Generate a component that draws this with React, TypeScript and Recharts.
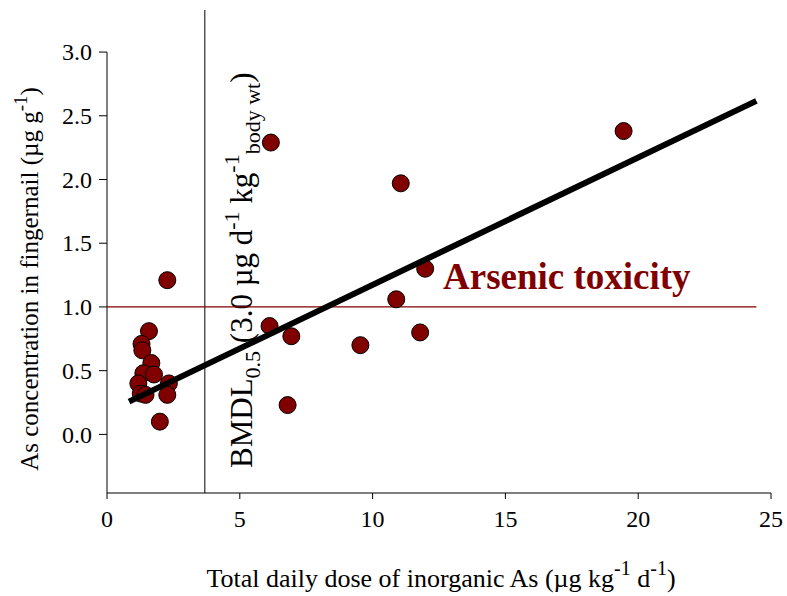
import { Label, ReferenceLine, Scatter, ScatterChart, XAxis, YAxis } from 'recharts'

const FONTE = '"Liberation Serif", "Times New Roman", serif'
const MARROM = '#800000'

// dose diária (µg kg-1 d-1) e concentração na unha (µg g-1)
const doses = [
  2.27, 6.17, 11.06, 19.45, 11.98, 10.89, 11.79, 9.54, 6.12, 6.94, 6.8,
  1.58, 1.3, 1.33, 1.67, 1.37, 1.77, 1.18, 2.33, 1.27, 1.45, 2.27, 1.99
]
const concentracoes = [
  1.21, 2.29, 1.97, 2.38, 1.3, 1.06, 0.8, 0.7, 0.85, 0.77, 0.23,
  0.81, 0.71, 0.66, 0.56, 0.48, 0.47, 0.4, 0.4, 0.32, 0.31, 0.31, 0.1
]
const tendenciaX = [0.83, 24.45]
const tendenciaY = [0.257, 2.617]
const limiteToxicidade = 1.0
const bmdl = 3.68
const ticksX = [0, 5, 10, 15, 20, 25]
const ticksY = [0, 0.5, 1, 1.5, 2, 2.5, 3]

const pontos = doses.map((x, i) => ({ x, y: concentracoes[i] }))
const tendencia = tendenciaX.map((x, i) => ({ x, y: tendenciaY[i] }))

const estiloTick = { fontFamily: FONTE, fontSize: 24 }

const TickX = (p: any) => (
  <text x={p.x} y={p.y} dy="0.75em" textAnchor="middle" style={estiloTick} fill="#000">
    {String(p.payload.value)}
  </text>
)

const TickY = (p: any) => (
  <text x={p.x} y={p.y} dy="0.34em" textAnchor="end" style={estiloTick} fill="#000">
    {Number(p.payload.value).toFixed(1)}
  </text>
)

export default function App() {
  return (
    <div style={{ position: 'absolute', left: 0, top: 0, fontFamily: FONTE }}>
      <ScatterChart
        width={787}
        height={596}
        margin={{ top: 10, right: 16, bottom: 53, left: 47 }}
        style={{ fontFamily: FONTE }}
      >
        <XAxis
          type="number"
          dataKey="x"
          domain={[0, 25]}
          ticks={ticksX}
          height={50}
          tickSize={6}
          tickMargin={10}
          axisLine={{ stroke: '#000' }}
          tickLine={{ stroke: '#000' }}
          tick={TickX}
        >
          <Label
            content={() => (
              <text x={441} y={587} textAnchor="middle" fontSize={26} fontFamily={FONTE} fill="#000">
                Total daily dose of inorganic As (µg kg
                <tspan dy={-12} fontSize={20}>-1</tspan>
                <tspan dy={12}> d</tspan>
                <tspan dy={-12} fontSize={20}>-1</tspan>
                <tspan dy={12}>)</tspan>
              </text>
            )}
          />
        </XAxis>
        <YAxis
          type="number"
          dataKey="y"
          domain={[-0.46, 3.33]}
          ticks={ticksY}
          allowDataOverflow
          width={60}
          tickSize={8}
          tickMargin={7}
          axisLine={false}
          tickLine={{ stroke: '#000' }}
          tick={TickY}
        >
          <Label
            content={() => (
              <text
                transform="translate(38 279) rotate(-90)"
                textAnchor="middle"
                fontSize={25}
                fontFamily={FONTE}
                fill="#000"
              >
                As concentration in fingernail (µg g
                <tspan dy={-11} fontSize={19}>-1</tspan>
                <tspan dy={11}>)</tspan>
              </text>
            )}
          />
        </YAxis>
        <ReferenceLine
          segment={[{ x: 0, y: -0.46 }, { x: 0, y: 3 }]}
          stroke="#000"
          strokeWidth={1}
        />
        <ReferenceLine x={bmdl} stroke="#555" strokeWidth={1.5}>
          <Label
            content={() => (
              <text
                transform="translate(252 468) rotate(-90)"
                textAnchor="start"
                fontSize={31}
                fontFamily={FONTE}
                fill="#000"
              >
                BMDL
                <tspan dy={8} fontSize={22}>0.5</tspan>
                <tspan dy={-8}> (3.0 µg d</tspan>
                <tspan dy={-13} fontSize={22}>-1</tspan>
                <tspan dy={13}> kg</tspan>
                <tspan dy={-13} fontSize={22}>-1</tspan>
                <tspan dy={21} fontSize={22}>body wt</tspan>
                <tspan dy={-8}>)</tspan>
              </text>
            )}
          />
        </ReferenceLine>
        <ReferenceLine
          segment={[{ x: 0, y: limiteToxicidade }, { x: tendenciaX[1], y: limiteToxicidade }]}
          stroke={MARROM}
          strokeWidth={1.2}
        >
          <Label
            content={() => (
              <text x={443} y={289} fontSize={37} fontWeight="bold" fontFamily={FONTE} fill={MARROM}>
                Arsenic toxicity
              </text>
            )}
          />
        </ReferenceLine>
        <Scatter
          data={pontos}
          isAnimationActive={false}
          shape={(p: any) => (
            <circle cx={p.cx} cy={p.cy} r={8.5} fill={MARROM} stroke="#000" strokeWidth={1} />
          )}
        />
        <Scatter
          data={tendencia}
          isAnimationActive={false}
          line={{ stroke: '#000', strokeWidth: 6 }}
          shape={() => <g />}
        />
      </ScatterChart>
    </div>
  )
}
